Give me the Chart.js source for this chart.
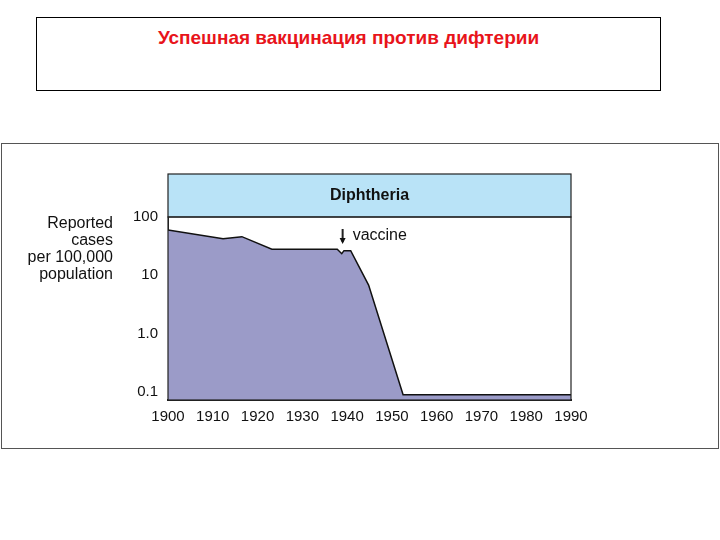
<!DOCTYPE html>
<html><head><meta charset="utf-8">
<script src="https://cdn.jsdelivr.net/npm/chart.js@4"></script>
<style>
body{margin:0;width:720px;height:540px;background:#fff;position:relative;font-family:"Liberation Sans",Arial,sans-serif}
#title{position:absolute;left:36px;top:17px;width:623px;height:72px;border:1px solid #000;text-align:center;color:#e8141b;font-weight:bold;font-size:19px;line-height:40px}
#panel{position:absolute;left:1px;top:143px;width:716px;height:304px;border:1px solid #555}
</style></head><body>
<div id="title">Успешная вакцинация против дифтерии</div>
<div id="panel"><canvas id="c" width="716" height="304"></canvas></div>
<script>
const years=[1900,1912.3,1916.5,1923.2,1937.8,1938.8,1939.3,1940.8,1944.8,1952.5,1990];
const cases=[60,42.5,46,28,28,23.5,26.5,26.5,6.8,0.09,0.09];
const yTicks=[0.1,1,10,100];
const yTickLabels={0.1:"0.1",1:"1.0",10:"10",100:"100"};
const xTicks=[1900,1910,1920,1930,1940,1950,1960,1970,1980,1990];
const panelPlugin={id:'panel',afterDraw(ch){
 const c=ch.ctx,a=ch.chartArea;
 c.save();
 c.fillStyle='#b9e3f7';c.fillRect(a.left,a.top-43,a.right-a.left,43);
 c.strokeStyle='#222';c.lineWidth=1.2;c.strokeRect(a.left,a.top-43,a.right-a.left,43);
 c.strokeRect(a.left,a.top,a.right-a.left,a.bottom-a.top);
 c.fillStyle='#111';c.font='bold 16px "Liberation Sans Narrow","Liberation Sans",sans-serif';c.textAlign='center';c.textBaseline='middle';
 c.fillText('Diphtheria',(a.left+a.right)/2,a.top-21);
 c.font='16px "Liberation Sans Narrow","Liberation Sans",sans-serif';c.textAlign='right';
 ['Reported','cases','per 100,000','population'].forEach((t,i)=>c.fillText(t,111,80+i*17));
 const x=ch.scales.x.getPixelForValue(1939);
 c.textAlign='left';c.fillText('vaccine',x+10,a.top+19);
 c.beginPath();c.moveTo(x,a.top+12);c.lineTo(x,a.top+25);c.lineWidth=2;c.stroke();
 c.beginPath();c.moveTo(x-3,a.top+21);c.lineTo(x,a.top+27);c.lineTo(x+3,a.top+21);c.fill();
 c.restore();
}};
new Chart(document.getElementById('c'),{type:'line',
 data:{datasets:[{data:years.map((y,i)=>({x:y,y:cases[i]})),fill:'start',backgroundColor:'#9b9bc8',borderColor:'#111',borderWidth:1.5,pointRadius:0,tension:0}]},
 options:{responsive:false,animation:false,plugins:{legend:{display:false},tooltip:{enabled:false}},
  layout:{padding:{top:73,right:147,bottom:20,left:0}},
  scales:{
   x:{type:'linear',min:1900,max:1990,afterBuildTicks(s){s.ticks=xTicks.map(v=>({value:v}));},
      grid:{display:false,drawTicks:true,tickLength:6,color:'#222'},border:{color:'#222',width:2},
      ticks:{color:'#111',callback:v=>String(v),font:{size:15,family:'"Liberation Sans Narrow","Liberation Sans",sans-serif'},padding:2,maxRotation:0}},
   y:{type:'logarithmic',min:0.073,max:100,afterBuildTicks(s){s.ticks=yTicks.map(v=>({value:v}));},
      afterFit(s){s.width=166;},
      grid:{display:false,tickLength:6,color:'#222'},border:{color:'#222'},
      ticks:{color:'#111',callback:v=>yTickLabels[v]||'',font:{size:15,family:'"Liberation Sans Narrow","Liberation Sans",sans-serif'},padding:4}}
  }},
 plugins:[panelPlugin]});
</script></body></html>
